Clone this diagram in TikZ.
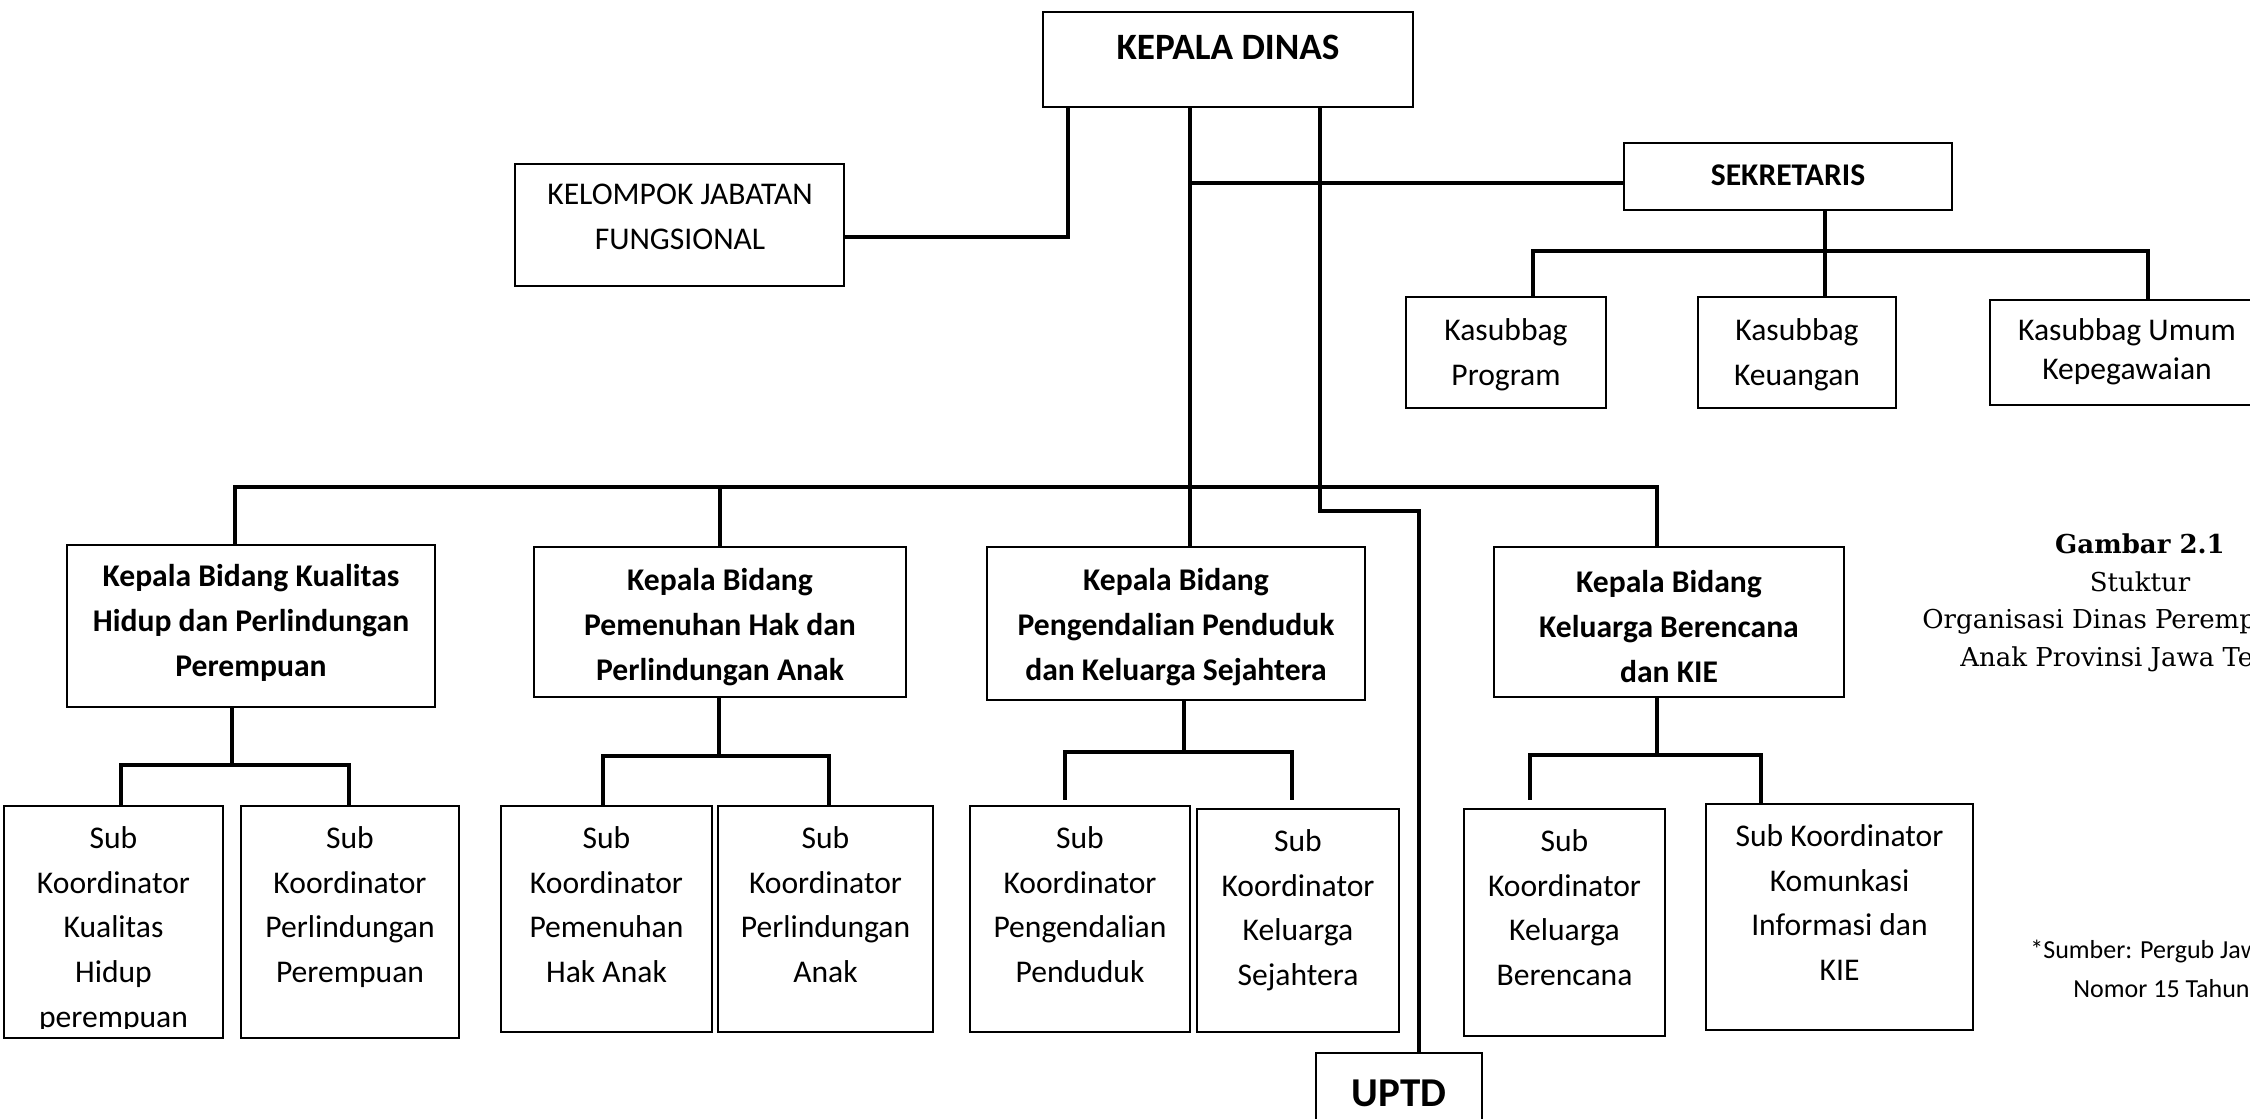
\documentclass[tikz,border=0pt]{standalone}
\usepackage{fontspec}
\setmainfont{Carlito}
\newfontfamily\capfont{DejaVu Serif}
\usetikzlibrary{fit}
\newcommand\regf{\fontsize{15.8}{22.3}\selectfont}
\newcommand\boldf{\fontsize{15.8}{22.5}\selectfont\bfseries}
\begin{document}
\begin{tikzpicture}[x=0.5pt,y=-0.5pt,
  box/.style={draw, line width=1pt, inner sep=0pt},
  conn/.style={line width=1.7pt, line cap=rect},
  txt/.style={inner sep=0pt, align=center},
  subtxt/.style={inner sep=0pt, align=center, anchor=north, font=\regf}
]
\useasboundingbox (0,0) rectangle (2250,1119);
\clip (0,0) rectangle (2250,1119);

% ---- top level
\node[box, fit={(1043,12) (1413,107)}] (kd) {};
\node[txt, font=\fontsize{18.6}{22}\selectfont\bfseries] (kdt) at (1228,47) {KEPALA DINAS};

\node[box, fit={(515,164) (844,286)}] (kjf) {};
\node[txt, font=\regf] (kjft) at (680,217) {KELOMPOK JABATAN\\FUNGSIONAL};

\node[box, fit={(1624,143) (1952,210)}] (sek) {};
\node[txt, font=\boldf] (sekt) at (1788,175) {SEKRETARIS};

% ---- kasubbag
\node[box, fit={(1406,297) (1606,408)}] (ksp) {};
\node[txt, font=\regf] (kspt) at (1506,355) {Kasubbag\\Program};
\node[box, fit={(1698,297) (1896,408)}] (ksk) {};
\node[txt, font=\regf] (kskt) at (1797,355) {Kasubbag\\Keuangan};
\node[box, fit={(1990,300) (2275,405)}] (ksu) {};
\node[txt, font=\fontsize{15.8}{19.3}\selectfont] (ksut) at (2127,352) {Kasubbag Umum\\Kepegawaian};

% ---- kepala bidang
\node[box, fit={(67,545) (435,707)}] (kb1) {};
\node[txt, font=\boldf] (kb1t) at (kb1.center |- 0,623) {Kepala Bidang Kualitas\\Hidup dan Perlindungan\\Perempuan};
\node[box, fit={(534,547) (906,697)}] (kb2) {};
\node[txt, font=\boldf] (kb2t) at (kb2.center |- 0,627) {Kepala Bidang\\Pemenuhan Hak dan\\Perlindungan Anak};
\node[box, fit={(987,547) (1365,700)}] (kb3) {};
\node[txt, font=\boldf] (kb3t) at (kb3.center |- 0,627) {Kepala Bidang\\Pengendalian Penduduk\\dan Keluarga Sejahtera};
\node[box, fit={(1494,547) (1844,697)}] (kb4) {};
\node[txt, font=\boldf] (kb4t) at (kb4.center |- 0,627) {Kepala Bidang\\Keluarga Berencana\\dan KIE};

% ---- sub koordinator boxes
\node[box, fit={(4,806) (223,1038)}] (s11) {};
\node[box, fit={(241,806) (459,1038)}] (s12) {};
\node[box, fit={(501,806) (712,1032)}] (s21) {};
\node[box, fit={(718,806) (933,1032)}] (s22) {};
\node[box, fit={(970,806) (1190,1032)}] (s31) {};
\node[box, fit={(1197,809) (1399,1032)}] (s32) {};
\node[box, fit={(1464,809) (1665,1036)}] (s41) {};
\node[box, fit={(1706,804) (1973,1030)}] (s42) {};

\begin{scope}
\clip (0,800) rectangle (235,1028);
\node[subtxt] (s11t) at (s11.north |- 0,817) {\strut Sub\\Koordinator\\Kualitas\\Hidup\\perempuan};
\end{scope}
\node[subtxt] (s12t) at (s12.north |- 0,817) {\strut Sub\\Koordinator\\Perlindungan\\Perempuan};
\node[subtxt] (s21t) at (s21.north |- 0,817) {\strut Sub\\Koordinator\\Pemenuhan\\Hak Anak};
\node[subtxt] (s22t) at (s22.north |- 0,817) {\strut Sub\\Koordinator\\Perlindungan\\Anak};
\node[subtxt] (s31t) at (s31.north |- 0,817) {\strut Sub\\Koordinator\\Pengendalian\\Penduduk};
\node[subtxt] (s32t) at (s32.north |- 0,820) {\strut Sub\\Koordinator\\Keluarga\\Sejahtera};
\node[subtxt] (s41t) at (s41.north |- 0,820) {\strut Sub\\Koordinator\\Keluarga\\Berencana};
\node[subtxt] (s42t) at (s42.north |- 0,815) {\strut Sub Koordinator\\Komunkasi\\Informasi dan\\KIE};

% ---- UPTD
\node[box, fit={(1316,1053) (1482,1160)}] (uptd) {};
\node[txt, font=\fontsize{20.5}{24}\selectfont\bfseries] (uptdt) at (1399,1093) {UPTD};

% ---- connectors from kepala dinas
\coordinate (a1) at (1068,237);
\draw[conn] (kd.south -| a1) -- (a1) -- (a1 -| kjf.east);
\coordinate (a2) at (1190,183);
\draw[conn] (kd.south -| a2) -- (kb3.north -| a2);
\draw[conn] (a2) -- (a2 -| sek.west);
\coordinate (u1) at (1320,511);
\coordinate (u2) at (1419,511);
\draw[conn] (kd.south -| u1) -- (u1) -- (u2) -- (u2 |- uptd.north);

% ---- bidang bus
\coordinate (bl) at (235,487);
\coordinate (b2) at (720,487);
\coordinate (br) at (1657,487);
\draw[conn] (bl) -- (br);
\draw[conn] (bl) -- (bl |- kb1.north);
\draw[conn] (b2) -- (b2 |- kb2.north);
\draw[conn] (br) -- (br |- kb4.north);

% ---- sekretaris subtree
\coordinate (k0) at (1825,251);
\coordinate (kl) at (1533,251);
\coordinate (kr) at (2148,251);
\draw[conn] (sek.south -| k0) -- (ksk.north -| k0);
\draw[conn] (kl) -- (kr);
\draw[conn] (kl) -- (kl |- ksp.north);
\draw[conn] (kr) -- (kr |- ksu.north);

% ---- group 1
\coordinate (g1) at (232,765);
\coordinate (g1l) at (121,765);
\coordinate (g1r) at (349,765);
\draw[conn] (kb1.south -| g1) -- (g1);
\draw[conn] (g1l) -- (g1r);
\draw[conn] (g1l) -- (g1l |- s11.north);
\draw[conn] (g1r) -- (g1r |- s12.north);
% ---- group 2
\coordinate (g2) at (719,756);
\coordinate (g2l) at (603,756);
\coordinate (g2r) at (829,756);
\draw[conn] (kb2.south -| g2) -- (g2);
\draw[conn] (g2l) -- (g2r);
\draw[conn] (g2l) -- (g2l |- s21.north);
\draw[conn] (g2r) -- (g2r |- s22.north);
% ---- group 3 (drops stop just short of the boxes)
\coordinate (g3) at (1184,752);
\coordinate (g3l) at (1065,752);
\coordinate (g3r) at (1292,752);
\coordinate (g3e) at (0,798);
\draw[conn] (kb3.south -| g3) -- (g3);
\draw[conn] (g3l) -- (g3r);
\draw[conn] (g3l) -- (g3l |- g3e);
\draw[conn] (g3r) -- (g3r |- g3e);
% ---- group 4
\coordinate (g4) at (1657,755);
\coordinate (g4l) at (1530,755);
\coordinate (g4r) at (1761,755);
\coordinate (g4e) at (0,798);
\draw[conn] (kb4.south -| g4) -- (g4);
\draw[conn] (g4l) -- (g4r);
\draw[conn] (g4l) -- (g4l |- g4e);
\draw[conn] (g4r) -- (g4r |- s42.north);

% ---- caption
\node[anchor=base, inner sep=0pt, font=\capfont\fontsize{13}{16}\selectfont\bfseries] (cap1) at (2140,553) {Gambar 2.1};
\node[anchor=base, inner sep=0pt, font=\capfont\fontsize{13}{16}\selectfont] (cap2) at (2140,591) {Stuktur};
\node[anchor=base west, inner sep=0pt, font=\capfont\fontsize{13}{16}\selectfont] (cap3) at (1922,628) {Organisasi Dinas Perempuan};
\node[anchor=base west, inner sep=0pt, font=\capfont\fontsize{13}{16}\selectfont] (cap4) at (1960,666) {Anak Provinsi Jawa Tengah};

\node[anchor=base west, inner sep=0pt, font=\fontsize{13}{16}\selectfont] (src1) at (2030,958) {*Sumber: Pergub Jawa};
\node[anchor=base west, inner sep=0pt, font=\fontsize{13}{16}\selectfont] (src2) at (2073,997) {Nomor 15 Tahun};
\end{tikzpicture}
\end{document}
